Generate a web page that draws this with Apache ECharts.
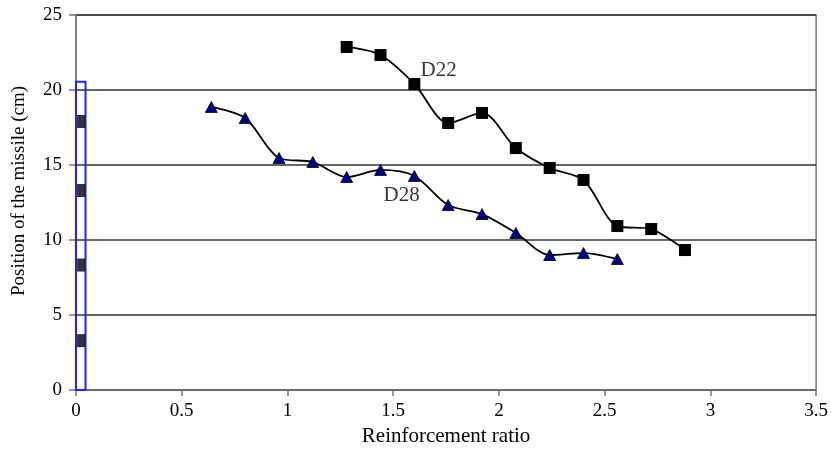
<!DOCTYPE html>
<html><head><meta charset="utf-8">
<script src="https://cdn.jsdelivr.net/npm/echarts@6/dist/echarts.min.js"></script>
<style>html,body{margin:0;padding:0;background:#fff}#c{width:831px;height:456px}</style>
</head><body><div id="c"></div>
<script>
const d22X = [1.28, 1.44, 1.60, 1.76, 1.92, 2.08, 2.24, 2.40, 2.56, 2.72, 2.88];
const d22Y = [22.87, 22.33, 20.4, 17.8, 18.47, 16.13, 14.8, 14.0, 10.93, 10.73, 9.33];
const d28X = [0.64, 0.80, 0.96, 1.12, 1.28, 1.44, 1.60, 1.76, 1.92, 2.08, 2.24, 2.40, 2.56];
const d28Y = [18.87, 18.13, 15.47, 15.2, 14.2, 14.67, 14.27, 12.33, 11.73, 10.47, 9.0, 9.13, 8.73];
const legendX = [0.024, 0.024, 0.024, 0.024];
const legendY = [17.9, 13.3, 8.33, 3.29];
const legendBox = [[0, 0], [0.045, 20.55]];
const labelNames = ['D22', 'D28'];
const labelPos = [[1.715, 21.27], [1.54, 13.0]];
const xTicks = [0, 0.5, 1, 1.5, 2, 2.5, 3, 3.5];
const yTicks = [0, 5, 10, 15, 20, 25];
const xTitle = 'Reinforcement ratio';
const yTitle = 'Position of the missile (cm)';

const font = 'Liberation Serif, Times New Roman, serif';
const chart = echarts.init(document.getElementById('c'));
const zip = (a, b) => a.map((v, i) => [v, b[i]]);
chart.setOption({
  animation: false,
  grid: {left: 76, right: 14, top: 15, bottom: 66, show: true, borderColor: '#777', borderWidth: 1.5, backgroundColor: 'transparent'},
  graphic: [{
    type: 'text', x: 19, y: 191, rotation: Math.PI / 2,
    style: {text: yTitle, fontFamily: font, fontSize: 19, fill: '#000', align: 'center', verticalAlign: 'middle'}
  }],
  xAxis: {
    type: 'value', min: 0, max: 3.5, interval: 0.5,
    name: xTitle, nameLocation: 'middle', nameGap: 36,
    nameTextStyle: {fontFamily: font, fontSize: 21, color: '#000'},
    axisLine: {lineStyle: {color: '#777', width: 1.5}},
    axisTick: {show: true, length: 6, lineStyle: {color: '#777', width: 1.5}},
    axisLabel: {fontFamily: font, fontSize: 19, color: '#000', margin: 12,
      formatter: v => xTicks.includes(v) ? String(v) : ''},
    splitLine: {show: false}
  },
  yAxis: {
    type: 'value', min: 0, max: 25, interval: 5,
    axisLine: {show: true, lineStyle: {color: '#777', width: 1.5}},
    axisTick: {show: true, length: 7, lineStyle: {color: '#777', width: 1.5}},
    axisLabel: {fontFamily: font, fontSize: 19, color: '#000', margin: 14,
      formatter: v => yTicks.includes(v) ? String(v) : ''},
    splitLine: {show: true, lineStyle: {color: '#333', width: 1.5}}
  },
  series: [
    {
      type: 'line', data: zip(d22X, d22Y), smooth: 0.3,
      symbol: 'rect', symbolSize: 12,
      lineStyle: {color: '#000', width: 1.8},
      itemStyle: {color: '#000', borderColor: '#000', borderWidth: 0}, z: 3
    },
    {
      type: 'line', data: zip(d28X, d28Y), smooth: 0.3,
      symbol: 'triangle', symbolSize: [12, 11],
      lineStyle: {color: '#000', width: 1.8},
      itemStyle: {color: '#000080', borderColor: '#000', borderWidth: 0.8}, z: 3
    },
    {
      type: 'scatter', data: zip(legendX, legendY),
      symbol: 'rect', symbolSize: [8, 13],
      itemStyle: {color: '#000'}, z: 4,
      markArea: {
        silent: true,
        itemStyle: {color: 'rgba(255,255,255,0)', borderColor: '#2222ee', borderWidth: 2},
        data: [[{coord: legendBox[0]}, {coord: legendBox[1]}]]
      }
    },
    {
      type: 'scatter', symbolSize: 0,
      data: labelNames.map((n, i) => ({name: n, value: labelPos[i]})),
      label: {show: true, position: 'inside', formatter: p => p.name,
        fontFamily: font, fontSize: 21, color: '#000'}, z: 5
    }
  ]
});
</script></body></html>
